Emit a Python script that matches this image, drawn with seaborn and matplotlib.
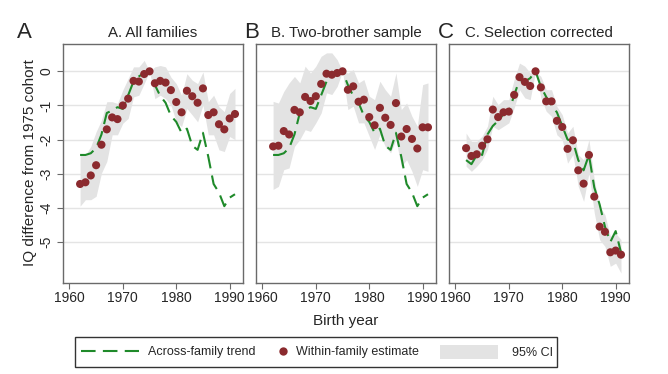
import numpy as np
import pandas as pd
import matplotlib
matplotlib.use("Agg")
import matplotlib.pyplot as plt
import seaborn as sns
from matplotlib.lines import Line2D
from matplotlib.patches import Patch, Rectangle

sns.set_style("white")
plt.rcParams['font.family'] = ['Liberation Sans', 'DejaVu Sans']
plt.rcParams['axes.unicode_minus'] = False

# --- data ---
years = [1962, 1963, 1964, 1965, 1966, 1967, 1968, 1969, 1970, 1971,
         1972, 1973, 1974, 1975, 1976, 1977, 1978, 1979, 1980, 1981,
         1982, 1983, 1984, 1985, 1986, 1987, 1988, 1989, 1990, 1991]

# across-family trend (same in A and B)
trend_ab = [-2.45, -2.45, -2.4, -2.25, -1.85, -1.22, -1.15, -1.05, -1.1, -0.7,
            -0.3, -0.15, -0.05, 0.0, -0.4, -0.72, -0.92, -1.3, -1.48, -1.8,
            -1.68, -2.18, -2.3, -1.8, -2.5, -3.3, -3.55, -3.95, -3.7, -3.6]
trend_c = [-2.6, -2.72, -2.45, -2.45, -1.85, -1.6, -1.45, -1.25, -1.2, -0.7,
           -0.25, -0.3, -0.2, 0.0, -0.45, -0.75, -1.0, -1.2, -1.6, -2.0,
           -2.05, -2.6, -2.9, -2.45, -3.4, -3.9, -4.55, -5.0, -4.68, -5.3]

# within-family estimates
est_a = [-3.3, -3.25, -3.05, -2.75, -2.15, -1.7, -1.35, -1.4, -1.0, -0.8,
         -0.28, -0.3, -0.08, 0.0, -0.35, -0.28, -0.33, -0.55, -0.9, -1.2,
         -0.57, -0.73, -0.92, -0.5, -1.28, -1.2, -1.55, -1.7, -1.38, -1.25]
est_b = [-2.2, -2.18, -1.75, -1.85, -1.13, -1.2, -0.75, -0.87, -0.73, -0.37,
         -0.07, -0.1, -0.05, 0.0, -0.54, -0.44, -0.89, -0.83, -1.34, -1.58,
         -1.07, -1.36, -1.57, -0.93, -1.91, -1.69, -1.98, -2.26, -1.64, -1.64]
est_c = [-2.25, -2.48, -2.43, -2.18, -1.99, -1.12, -1.34, -1.2, -1.18, -0.69,
         -0.17, -0.31, -0.43, 0.0, -0.47, -0.88, -0.88, -1.45, -1.63, -2.27,
         -2.02, -2.9, -3.29, -2.45, -3.67, -4.55, -4.7, -5.3, -5.25, -5.37]

# 95% CI bounds
hi_a = [-2.4, -2.45, -2.2, -1.77, -1.43, -0.89, -0.89, -0.94, -0.55, -0.21,
        0.13, 0.13, 0.32, 0.0, 0.13, 0.17, 0.13, -0.17, -0.36, -0.7,
        -0.07, -0.26, -0.36, -0.02, -0.89, -0.7, -1.04, -1.18, -0.65, -0.5]
lo_a = [-3.95, -3.76, -3.76, -3.66, -2.98, -2.64, -1.86, -1.86, -1.52, -1.38,
        -0.75, -0.7, -0.36, 0.0, -0.8, -0.7, -0.8, -0.99, -1.48, -1.62,
        -1.09, -1.28, -1.48, -0.99, -1.86, -1.86, -2.3, -2.35, -1.91, -2.0]
hi_b = [-0.88, -0.93, -0.59, -0.34, -0.15, -0.34, 0.15, -0.05, 0.15, 0.44,
        0.54, 0.54, 0.34, 0.0, -0.05, 0.05, -0.34, -0.24, -0.73, -0.83,
        -0.29, -0.54, -0.73, -0.05, -1.12, -0.93, -1.32, -1.61, -0.39, -0.34]
lo_b = [-3.46, -3.37, -2.88, -2.83, -2.2, -2.0, -1.71, -1.76, -1.51, -1.22,
        -0.63, -0.68, -0.44, 0.0, -1.12, -1.02, -1.51, -1.51, -1.9, -2.29,
        -1.85, -2.2, -2.39, -2.0, -2.78, -2.59, -2.93, -3.37, -2.88, -2.93]
hi_c = [-1.81, -2.05, -2.05, -1.9, -1.61, -0.73, -0.98, -0.83, -0.83, -0.24,
        0.24, 0.15, -0.05, 0.0, -0.15, -0.54, -0.54, -1.03, -1.27, -1.81,
        -1.61, -2.44, -2.59, -2.0, -3.17, -3.96, -4.2, -4.83, -4.74, -4.93]
lo_c = [-2.78, -2.93, -2.78, -2.59, -2.29, -1.61, -1.71, -1.61, -1.51, -1.07,
        -0.54, -0.78, -0.83, 0.0, -0.78, -1.17, -1.32, -1.86, -2.0, -2.69,
        -2.44, -3.37, -3.81, -2.98, -4.15, -4.93, -5.13, -5.71, -5.62, -5.91]

titles = ['A. All families', 'B. Two-brother sample', 'C. Selection corrected']
letters = ['A', 'B', 'C']
xticks = [1960, 1970, 1980, 1990]
yticks = [0, -1, -2, -3, -4, -5]

green = '#1f8a2a'
red = '#8b2a2e'
band = '#e3e3e3'
frame = '#6a6a6a'

panels = [(trend_ab, est_a, lo_a, hi_a),
          (trend_ab, est_b, lo_b, hi_b),
          (trend_c, est_c, lo_c, hi_c)]

fig = plt.figure(figsize=(6.68, 3.74), dpi=100)
lefts = [63, 256, 449]
letter_x = [24, 252, 446]

for i, (tr, est, lo, hi) in enumerate(panels):
    ax = fig.add_axes([lefts[i] / 668, 1 - 283 / 374, 180 / 668, 239 / 374])
    df = pd.DataFrame({'year': years, 'trend': tr, 'est': est, 'lo': lo, 'hi': hi})

    ax.fill_between(df['year'], df['lo'], df['hi'], color=band, lw=0, zorder=1)
    sns.lineplot(data=df, x='year', y='trend', ax=ax, color=green, lw=1.5,
                 dashes=False, zorder=2)
    ax.lines[-1].set_dashes([7, 3.5])
    sns.scatterplot(data=df, x='year', y='est', ax=ax, color=red, s=34,
                    edgecolor='none', zorder=3)

    ax.set_xlim(1958.8, 1992.5)
    ax.set_ylim(-6.2, 0.8)
    ax.set_xticks(xticks)
    ax.set_yticks(yticks)
    ax.grid(axis='y', color='#e4e4e4', lw=1)
    ax.set_axisbelow(True)
    ax.set_xlabel('')
    ax.set_ylabel('')
    for sp in ax.spines.values():
        sp.set_color(frame)
        sp.set_linewidth(1)
    ax.tick_params(axis='x', direction='out', length=4, width=0.8,
                   color=frame, labelsize=10, pad=2, bottom=True)
    if i == 0:
        ax.tick_params(axis='y', direction='out', length=4, width=0.8,
                       color=frame, labelsize=10, pad=3, left=True)
        for lab in ax.get_yticklabels():
            lab.set_rotation(90)
            lab.set_va('center')
    else:
        ax.tick_params(axis='y', length=0, labelleft=False)
    ax.set_title(titles[i], fontsize=10.8, pad=5)
    fig.text(letter_x[i] / 668, 1 - 33 / 374, letters[i], fontsize=16,
             ha='center', va='center')

fig.text(30 / 668, 1 - 163 / 374, 'IQ difference from 1975 cohort',
         rotation=90, ha='center', va='center', fontsize=11)
fig.text(346 / 668, 1 - 321 / 374, 'Birth year', ha='center', va='center',
         fontsize=11)

# legend frame and entries
fig.patches.append(Rectangle((75 / 668, 1 - 367 / 374), 482 / 668, 30 / 374,
                             transform=fig.transFigure, fill=False,
                             edgecolor='#333333', lw=1))
ly = 1 - 352 / 374
fig.legend(handles=[Line2D([], [], color=green, lw=1.5, dashes=[7, 3.5])],
           labels=['Across-family trend'], loc='center left',
           bbox_to_anchor=(81 / 668, ly), frameon=False, fontsize=9,
           handlelength=4.6, handletextpad=0.72, borderpad=0, borderaxespad=0)
fig.legend(handles=[Line2D([], [], color=red, lw=0, marker='o', markersize=6,
                           markeredgewidth=0)],
           labels=['Within-family estimate'], loc='center left',
           bbox_to_anchor=(277 / 668, ly), frameon=False, fontsize=9,
           handlelength=1, handletextpad=0.5, borderpad=0, borderaxespad=0)
fig.legend(handles=[Patch(facecolor=band, edgecolor='none')],
           labels=['95% CI'], loc='center left',
           bbox_to_anchor=(440 / 668, ly), frameon=False, fontsize=9,
           handlelength=4.6, handleheight=1.35, handletextpad=1.2,
           borderpad=0, borderaxespad=0)

plt.savefig('out.png', dpi=100)
plt.close()
